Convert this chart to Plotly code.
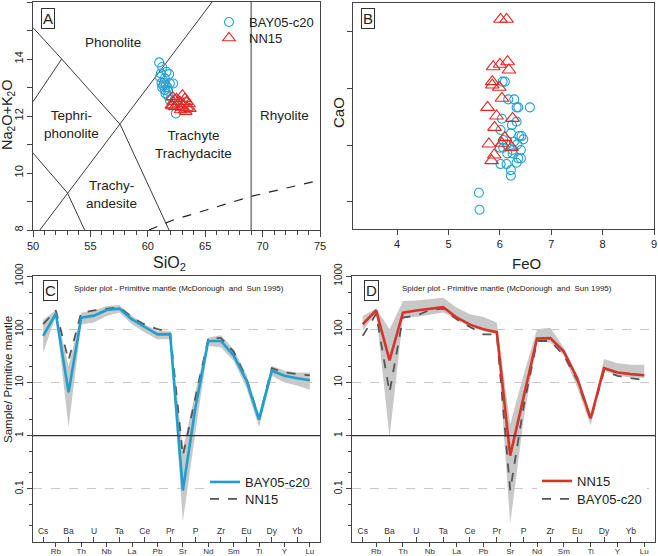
import plotly.graph_objects as go

# ---------------- DATA ----------------
# Panel A: TAS diagram (SiO2 vs Na2O+K2O)
bay_sio2 = [60.99, 61.25, 61.05, 61.13, 61.63, 61.86, 61.48, 61.19, 61.40, 61.57, 61.92,
            62.21, 61.34, 61.72, 61.25, 61.48, 61.77, 61.54, 61.77, 61.92, 62.35, 62.44]
bay_alk = [13.88, 13.72, 13.37, 13.49, 13.55, 13.47, 13.32, 13.16, 13.16, 13.08, 13.14,
           13.14, 13.07, 13.00, 13.00, 12.91, 12.88, 12.79, 12.70, 12.56, 12.58, 12.09]
nn_sio2 = [62.15, 63.02, 62.50, 63.23, 62.21, 62.79, 63.37, 62.06, 62.65, 63.08, 63.60,
           62.35, 62.94, 63.43, 63.23, 63.66, 62.85, 63.32, 62.12]
nn_alk = [12.67, 12.73, 12.61, 12.61, 12.50, 12.50, 12.50, 12.38, 12.42, 12.42, 12.42,
          12.32, 12.30, 12.30, 12.21, 12.26, 12.21, 12.15, 12.35]

# TAS field boundaries
tas_b1_x = [50.0, 52.5, 57.6, 61.85]
tas_b1_y = [15.1, 14.0, 11.7, 8.0]
tas_b2_x = [50.0, 52.5]
tas_b2_y = [12.5, 14.0]
tas_b3_x = [50.0, 53.0, 54.5]
tas_b3_y = [10.7, 9.3, 8.0]
tas_b4_x = [50.6, 65.6]
tas_b4_y = [8.0, 16.0]
tas_b5_x = [69.0, 69.0]
tas_b5_y = [8.0, 16.0]
alk_div_x = [60.1, 62.2, 65.1, 68.9, 75.0]
alk_div_y = [8.0, 8.35, 8.7, 9.17, 9.75]

field_names = ["Phonolite", "Tephri-<br>phonolite", "Trachyte<br>Trachydacite", "Rhyolite", "Trachy-<br>andesite"]
field_x = [57.0, 53.35, 63.95, 71.95, 56.85]
field_y = [14.57, 11.69, 11.01, 12.03, 9.26]

# Panel B: FeO vs CaO
bay_feo = [6.052, 6.097, 6.162, 6.279, 6.325, 6.357, 6.584, 6.039, 6.234, 6.325, 6.013,
           6.214, 6.377, 6.422, 6.455, 6.065, 6.273, 6.130, 6.338, 6.065, 6.000, 6.247,
           6.409, 6.143, 6.247, 6.357, 6.409, 6.325, 6.013, 6.130, 6.214, 6.214, 5.591, 5.604]
bay_cao = [2.059, 2.059, 1.903, 1.903, 1.832, 1.832, 1.832, 1.732, 1.676, 1.706, 1.632,
           1.603, 1.579, 1.579, 1.550, 1.544, 1.529, 1.506, 1.506, 1.476, 1.476, 1.456,
           1.456, 1.426, 1.426, 1.382, 1.382, 1.344, 1.332, 1.332, 1.279, 1.229, 1.079, 0.929]
nn_feo = [6.013, 6.130, 5.870, 6.000, 6.149, 6.175, 5.851, 5.851, 5.987, 6.039, 5.760,
          5.935, 6.247, 5.896, 6.097, 5.786, 6.039, 6.227, 5.890, 5.838]
nn_cao = [2.609, 2.609, 2.191, 2.212, 2.235, 2.162, 2.059, 2.029, 2.009, 1.912, 1.832,
          1.756, 1.735, 1.656, 1.565, 1.509, 1.515, 1.479, 1.412, 1.362]
cao_ticks = [1.0, 1.5, 2.0, 2.5]

# Panels C/D: spider diagrams (normalised to primitive mantle)
elements = ["Cs", "Rb", "Ba", "Th", "U", "Nb", "Ta", "La", "Ce", "Pb", "Pr",
            "Sr", "P", "Nd", "Zr", "Sm", "Eu", "Ti", "Dy", "Y", "Yb", "Lu"]
bay_mean = [75, 195, 6.5, 165, 180, 230, 244, 153, 110, 80, 80,
            0.093, 3.5, 60, 60, 32, 11, 2.0, 16.5, 13.3, 12, 11]
bay_min = [36, 178, 1.43, 123, 133, 178, 205, 124, 87, 65, 65,
           0.024, 1.2, 49, 45.5, 25.5, 8, 1.43, 13.3, 10, 8.7, 7.3]
bay_max = [150, 230, 20, 205, 220, 274, 286, 178, 124, 93, 93,
           0.55, 7, 70, 77, 42, 14.3, 2.55, 20.5, 16.5, 15.4, 15.4]
nn_mean = [124, 225, 26, 205, 225, 245, 260, 166, 122, 100, 88,
           0.42, 5.5, 67, 68, 38, 12, 2.1, 18.5, 15.4, 14.3, 13.6]
nn_min = [93, 205, 0.93, 166, 170, 185, 205, 154, 110, 93, 80,
          0.022, 2.0, 60, 56, 32, 8, 1.54, 16.5, 13.3, 12.4, 12.1]
nn_max = [178, 248, 100, 339, 348, 364, 392, 256, 191, 170, 133,
          1.65, 14, 100, 107, 45, 13.3, 2.2, 27.4, 22.8, 21.4, 21.4]
spider_ticks = [0.01, 0.1, 1, 10, 100, 1000]
spider_ticktext = ["0.01", "0.1", "1", "10", "100", "1000"]

# ---------------- STYLE ----------------
W, H = 658, 556
BLUE = "rgb(38,162,210)"
BLUE_LINE = "rgb(30,160,206)"
RED = "rgb(226,40,36)"
RED_LINE = "rgb(214,52,40)"
BAND = "rgb(200,200,200)"
DASH = "rgb(85,85,85)"
LINE = "#3a3a3a"
FONT = "Arial, Liberation Sans, sans-serif"


def px(p):
    return p / W


def py(p):
    return 1 - p / H


idx = list(range(len(elements)))
idx_bottom = idx[1::2]
idx_top = idx[0::2]
lab_bottom = elements[1::2]
lab_top = elements[0::2]

fig = go.Figure()

# ---- Panel A ----
for bx, by in [(tas_b1_x, tas_b1_y), (tas_b2_x, tas_b2_y), (tas_b3_x, tas_b3_y),
               (tas_b4_x, tas_b4_y), (tas_b5_x, tas_b5_y)]:
    fig.add_trace(go.Scatter(x=bx, y=by, mode="lines", line=dict(color=LINE, width=1),
                             showlegend=False, hoverinfo="skip", xaxis="x", yaxis="y"))
fig.add_trace(go.Scatter(x=alk_div_x, y=alk_div_y, mode="lines",
                         line=dict(color="#222", width=1.2, dash="dash"),
                         showlegend=False, hoverinfo="skip", xaxis="x", yaxis="y"))
fig.add_trace(go.Scatter(x=bay_sio2, y=bay_alk, mode="markers", name="BAY05-c20",
                         marker=dict(symbol="circle-open", size=9, color=BLUE, line=dict(width=1.1)),
                         xaxis="x", yaxis="y", legend="legend"))
fig.add_trace(go.Scatter(x=nn_sio2, y=nn_alk, mode="markers", name="NN15",
                         marker=dict(symbol="triangle-up-open", size=11, color=RED, line=dict(width=1.1)),
                         xaxis="x", yaxis="y", legend="legend4"))

# ---- Panel B ----
fig.add_trace(go.Scatter(x=bay_feo, y=bay_cao, mode="markers", showlegend=False,
                         marker=dict(symbol="circle-open", size=9, color=BLUE, line=dict(width=1.1)),
                         xaxis="x2", yaxis="y2"))
fig.add_trace(go.Scatter(x=nn_feo, y=nn_cao, mode="markers", showlegend=False,
                         marker=dict(symbol="triangle-up-open", size=12, color=RED, line=dict(width=1.1)),
                         xaxis="x2", yaxis="y2"))


# ---- Panels C / D ----
def spider(xa, ya, band_lo, band_hi, dashed, dashed_name, main, main_name, main_color, leg_main, leg_dash):
    fig.add_trace(go.Scatter(x=idx, y=band_lo, mode="lines", line=dict(width=0, color=BAND),
                             showlegend=False, hoverinfo="skip", xaxis=xa, yaxis=ya))
    fig.add_trace(go.Scatter(x=idx, y=band_hi, mode="lines", line=dict(width=0, color=BAND),
                             fill="tonexty", fillcolor=BAND,
                             showlegend=False, hoverinfo="skip", xaxis=xa, yaxis=ya))
    fig.add_trace(go.Scatter(x=idx, y=dashed, mode="lines", name=dashed_name,
                             line=dict(color=DASH, width=1.8, dash="dash"),
                             legend=leg_dash, xaxis=xa, yaxis=ya))
    fig.add_trace(go.Scatter(x=idx, y=main, mode="lines", name=main_name,
                             line=dict(color=main_color, width=2.6),
                             legend=leg_main, xaxis=xa, yaxis=ya))


spider("x3", "y3", bay_min, bay_max, nn_mean, "NN15", bay_mean, "BAY05-c20", BLUE_LINE, "legend2", "legend5")
spider("x4", "y4", nn_min, nn_max, bay_mean, "BAY05-c20", nn_mean, "NN15", RED_LINE, "legend3", "legend6")

# dummy traces so that the overlay axes (top-row element labels) exist
fig.add_trace(go.Scatter(x=idx_top, y=[None] * len(idx_top), mode="lines", showlegend=False,
                         hoverinfo="skip", xaxis="x5", yaxis="y3"))
fig.add_trace(go.Scatter(x=idx_top, y=[None] * len(idx_top), mode="lines", showlegend=False,
                         hoverinfo="skip", xaxis="x6", yaxis="y4"))

# ---------------- LAYOUT ----------------
frame = dict(showline=True, mirror=True, linecolor="#444", linewidth=1, showgrid=False,
             zeroline=False, tickcolor="#444", automargin=False,
             tickfont=dict(size=11, color="#222", family=FONT))

yA = [py(230), py(2)]
yB = [py(229), py(3)]
yCD = [py(542), py(276)]

layout = dict(
    width=W, height=H, margin=dict(l=0, r=0, t=0, b=0, autoexpand=False),
    paper_bgcolor="white", plot_bgcolor="white",
    font=dict(family=FONT, color="#222"),
    xaxis=dict(frame, domain=[px(33), px(320)], anchor="y", range=[50, 75],
               tick0=50, dtick=5, ticks="outside", ticklen=6,
               minor=dict(dtick=1, ticks="outside", ticklen=4, tickcolor="#444")),
    yaxis=dict(frame, domain=yA, anchor="x", range=[8, 16], tick0=8, dtick=2,
               ticks="outside", ticklen=5, tickangle=-90,
               minor=dict(dtick=1, ticks="outside", ticklen=5, tickcolor="#444")),
    xaxis2=dict(frame, domain=[px(353), px(654)], anchor="y2", range=[3.14, 9.0],
                tickvals=[4, 5, 6, 7, 8, 9], ticks="outside", ticklen=5),
    yaxis2=dict(frame, domain=yB, anchor="x2", range=[0.759, 2.753],
                tickvals=cao_ticks, showticklabels=False, ticks="outside", ticklen=5),
)

for xa, ya, dom in [("xaxis3", "yaxis3", [px(33), px(320)]), ("xaxis4", "yaxis4", [px(352), px(655)])]:
    xn = xa.replace("axis", "")
    yn = ya.replace("axis", "")
    layout[xa] = dict(frame, domain=dom, anchor=yn, range=[-0.8, 21.8],
                      tickvals=idx_bottom, ticktext=lab_bottom, ticks="outside", ticklen=4,
                      ticklabelstandoff=-3,
                      tickfont=dict(size=8, color="#333", family=FONT))
    layout[ya] = dict(frame, domain=yCD, anchor=xn, type="log", range=[-2, 3],
                      tickvals=spider_ticks, ticktext=spider_ticktext, ticks="outside", ticklen=5,
                      tickangle=-90, tickfont=dict(size=10, color="#222", family=FONT),
                      showgrid=True, gridcolor="rgb(200,200,200)", griddash="dash", gridwidth=1,
                      minor=dict(ticks="outside", ticklen=3, tickcolor="#444", showgrid=False))

layout["xaxis5"] = dict(overlaying="x3", anchor="y3", range=[-0.8, 21.8], side="bottom",
                        tickvals=idx_top, ticktext=lab_top, ticks="inside", ticklen=5,
                        tickcolor="#444", ticklabelposition="inside", showgrid=False,
                        zeroline=False, showline=False, automargin=False,
                        tickfont=dict(size=8.5, color="#333", family=FONT))
layout["xaxis6"] = dict(layout["xaxis5"], overlaying="x4", anchor="y4")

legend_common = dict(bgcolor="rgba(255,255,255,0)", borderwidth=0, xanchor="left", yanchor="top",
                     font=dict(size=13, color="#222", family=FONT), traceorder="normal")
layout["legend"] = dict(legend_common, x=px(209), y=py(7))
layout["legend4"] = dict(legend_common, x=px(209), y=py(23))
layout["legend2"] = dict(legend_common, x=px(205), y=py(467))
layout["legend5"] = dict(legend_common, x=px(205), y=py(484), bgcolor="white",
                         entrywidth=112, entrywidthmode="pixels")
layout["legend3"] = dict(legend_common, x=px(537), y=py(466))
layout["legend6"] = dict(legend_common, x=px(537), y=py(484), bgcolor="white",
                         entrywidth=115, entrywidthmode="pixels")

fig.update_layout(**layout)

# reference line at 1 in spider plots
for xr, yr in [("x3 domain", "y3"), ("x4 domain", "y4")]:
    fig.add_shape(type="line", xref=xr, yref=yr, x0=0, x1=1, y0=1, y1=1,
                  line=dict(color="#333", width=1.2))

ann = []
# TAS field labels
for t, x, y in zip(field_names, field_x, field_y):
    ann.append(dict(text=t, x=x, y=y, xref="x", yref="y", showarrow=False,
                    font=dict(size=13.5, color="#222")))


def paper_text(t, cx, cy, size, angle=0, **kw):
    return dict(text=t, x=px(cx), y=py(cy), xref="paper", yref="paper", showarrow=False,
                xanchor="center", yanchor="middle", textangle=angle,
                font=dict(size=size, color="#222"), **kw)


def box_label(t, cx, cy):
    return paper_text(t, cx, cy, 15, bordercolor="#333", borderwidth=1, borderpad=1, bgcolor="white")


ann += [box_label("A", 48, 18), box_label("B", 368, 18),
        box_label("C", 50, 290), box_label("D", 371, 290)]

# axis titles
ann.append(paper_text("SiO<sub>2</sub>", 169, 264, 16))
ann.append(paper_text("Na<sub>2</sub>O+K<sub>2</sub>O", 8, 115, 14.5, -90))
ann.append(paper_text("FeO", 526, 264, 15))
ann.append(paper_text("CaO", 338, 113, 15, -90))
ann.append(paper_text("Sample/ Primitive mantle", 8, 380, 11.5, -90))
for x0 in [72, 400]:
    ann.append(dict(text="Spider plot - Primitive mantle (McDonough  and  Sun 1995)",
                    x=px(x0), y=py(288), xref="paper", yref="paper", xanchor="left",
                    yanchor="middle", showarrow=False, font=dict(size=8, color="#222")))

fig.update_layout(annotations=ann)
fig.write_html("out.html", config={"displayModeBar": False},
               post_script="document.body.style.margin='0';document.body.style.overflow='hidden';")
